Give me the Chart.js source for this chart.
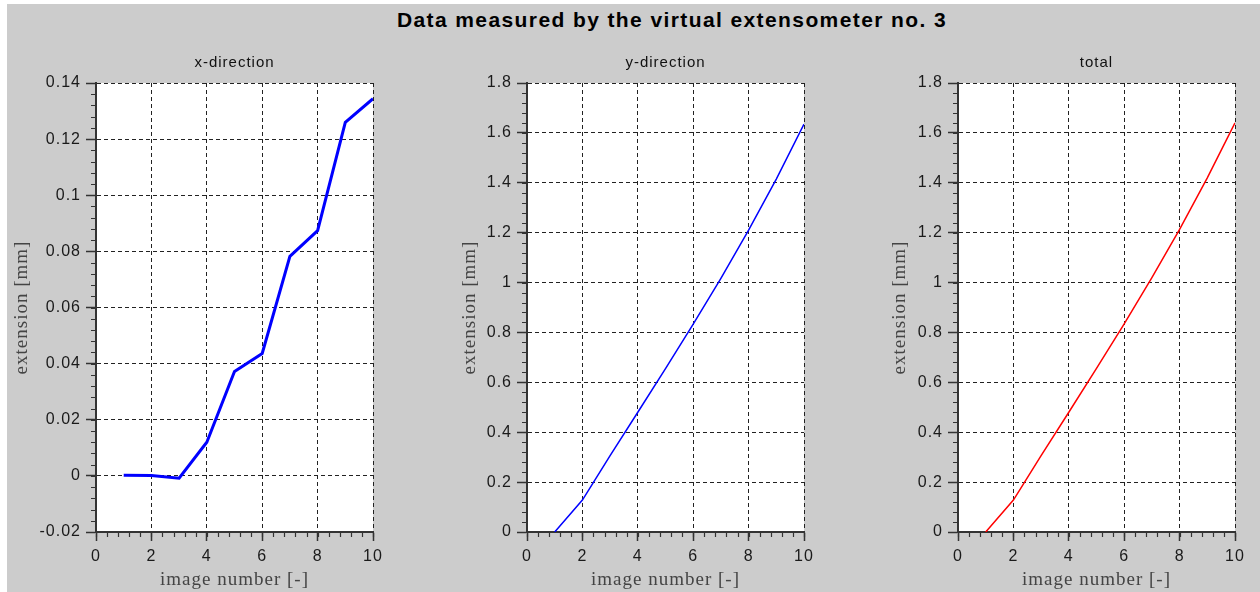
<!DOCTYPE html>
<html>
<head>
<meta charset="utf-8">
<script src="https://cdn.jsdelivr.net/npm/chart.js@4"></script>
<style>
  html, body { margin: 0; padding: 0; background: #ffffff; }
  #page { position: absolute; left: 7px; top: 4px; width: 1253px; height: 588px; background: #cccccc; }
  #mainTitle { position: absolute; left: 7px; top: 8px; width: 1330px; text-align: center;
    font: bold 21px "Liberation Sans", Arial, sans-serif; letter-spacing: 1.4px; color: #000; }
  .box { position: absolute; top: 40px; height: 552px; }
  .box canvas { display: block; }
</style>
</head>
<body>
<div id="page"></div>
<div id="mainTitle">Data measured by the virtual extensometer no. 3</div>
<div class="box" id="box1" style="left:7px;width:433px"><canvas id="chart1"></canvas></div>
<div class="box" id="box2" style="left:455px;width:425px"><canvas id="chart2"></canvas></div>
<div class="box" id="box3" style="left:885px;width:375px"><canvas id="chart3"></canvas></div>
<script>
// values
const imageNumbers = [1, 2, 3, 4, 5, 6, 7, 8, 9, 10];
const xDirection = [0.0002, 0.0001, -0.0008, 0.012, 0.0372, 0.0436, 0.0782, 0.0874, 0.126, 0.1344];
const yDirection = [0, 0.128, 0.306, 0.48, 0.655, 0.833, 1.017, 1.21, 1.415, 1.635];
const totalExt = [0, 0.128, 0.306, 0.48, 0.656, 0.834, 1.02, 1.213, 1.42, 1.64];

const xTicks = { min: 0, max: 10, step: 2, minor: 0.4 };
const xDirTicks = { min: -0.02, max: 0.14, step: 0.02, minor: 0.004 };
const yDirTicks = { min: 0, max: 1.8, step: 0.2, minor: 0.04 };

const axisColor = '#333333';
const gridColor = '#222222';

// white plot area, wider letter spacing, minor tick marks
const plotDecor = {
  id: 'plotDecor',
  beforeLayout(chart) {
    chart.ctx.letterSpacing = '1px';
  },
  beforeDraw(chart) {
    const a = chart.chartArea;
    const ctx = chart.ctx;
    ctx.letterSpacing = '1px';
    ctx.save();
    ctx.fillStyle = '#ffffff';
    ctx.fillRect(a.left, a.top, a.right - a.left, a.bottom - a.top);
    ctx.restore();
  },
  afterDraw(chart, args, opts) {
    const ctx = chart.ctx;
    const xs = chart.scales.x, ys = chart.scales.y;
    ctx.save();
    ctx.strokeStyle = axisColor;
    ctx.lineWidth = 1.2;
    ctx.beginPath();
    let n = Math.round((xs.max - xs.min) / opts.x);
    for (let i = 0; i <= n; i++) {
      const px = Math.round(xs.getPixelForValue(xs.min + i * opts.x)) + 0.5;
      ctx.moveTo(px, ys.bottom);
      ctx.lineTo(px, ys.bottom + 5);
    }
    n = Math.round((ys.max - ys.min) / opts.y);
    for (let i = 0; i <= n; i++) {
      const py = Math.round(ys.getPixelForValue(ys.min + i * opts.y)) + 0.5;
      ctx.moveTo(xs.left - 5, py);
      ctx.lineTo(xs.left, py);
    }
    ctx.stroke();
    ctx.restore();
  }
};

function fmt(v) {
  return parseFloat(v.toFixed(4)).toString();
}

function makeChart(id, title, values, yTicks, color, lineWidth, yWidth, padRight) {
  const points = imageNumbers.map((n, i) => ({ x: n, y: values[i] }));
  return new Chart(document.getElementById(id), {
    type: 'line',
    data: {
      datasets: [{
        data: points,
        borderColor: color,
        borderWidth: lineWidth,
        pointRadius: 0,
        tension: 0,
        fill: false
      }]
    },
    options: {
      responsive: true,
      maintainAspectRatio: false,
      animation: false,
      events: [],
      layout: { padding: { left: 0, right: padRight, top: 0, bottom: 0 } },
      plugins: {
        legend: { display: false },
        tooltip: { enabled: false },
        title: {
          display: true,
          text: title,
          fullSize: false,
          color: '#111111',
          font: { family: '"Liberation Sans", Arial, sans-serif', size: 15, weight: 'normal' },
          padding: { top: 14, bottom: 11 }
        },
        plotDecor: { x: xTicks.minor, y: yTicks.minor }
      },
      scales: {
        x: {
          type: 'linear',
          min: xTicks.min,
          max: xTicks.max,
          ticks: {
            stepSize: xTicks.step,
            color: '#1a1a1a',
            padding: 6,
            font: { family: '"Liberation Sans", Arial, sans-serif', size: 16 },
            callback: fmt
          },
          grid: { color: gridColor, lineWidth: 1, tickLength: 9, tickColor: axisColor, tickWidth: 1.5, tickBorderDash: [] },
          border: { display: true, color: axisColor, width: 2, dash: [4, 3] },
          title: {
            display: true,
            text: 'image number [-]',
            color: '#444444',
            font: { family: '"Liberation Serif", "Times New Roman", serif', size: 19 },
            padding: { top: 0, bottom: 1 }
          },
          afterFit(scale) { scale.height = 60; }
        },
        y: {
          type: 'linear',
          min: yTicks.min,
          max: yTicks.max,
          ticks: {
            stepSize: yTicks.step,
            color: '#1a1a1a',
            padding: 5,
            font: { family: '"Liberation Sans", Arial, sans-serif', size: 16 },
            callback: fmt
          },
          grid: { color: gridColor, lineWidth: 1, tickLength: 10, tickColor: axisColor, tickWidth: 1.5, tickBorderDash: [] },
          border: { display: true, color: axisColor, width: 2, dash: [4, 3] },
          title: {
            display: true,
            text: 'extension [mm]',
            color: '#444444',
            font: { family: '"Liberation Serif", "Times New Roman", serif', size: 19 },
            padding: { top: 4, bottom: 0 }
          },
          afterFit(scale) { scale.width = yWidth; }
        }
      }
    },
    plugins: [plotDecor]
  });
}

makeChart('chart1', 'x-direction', xDirection, xDirTicks, '#0000ff', 3, 89, 67);
makeChart('chart2', 'y-direction', yDirection, yDirTicks, '#0000ff', 1.5, 72, 76);
makeChart('chart3', 'total', totalExt, yDirTicks, '#ff0000', 1.5, 73, 25);
</script>
</body>
</html>
